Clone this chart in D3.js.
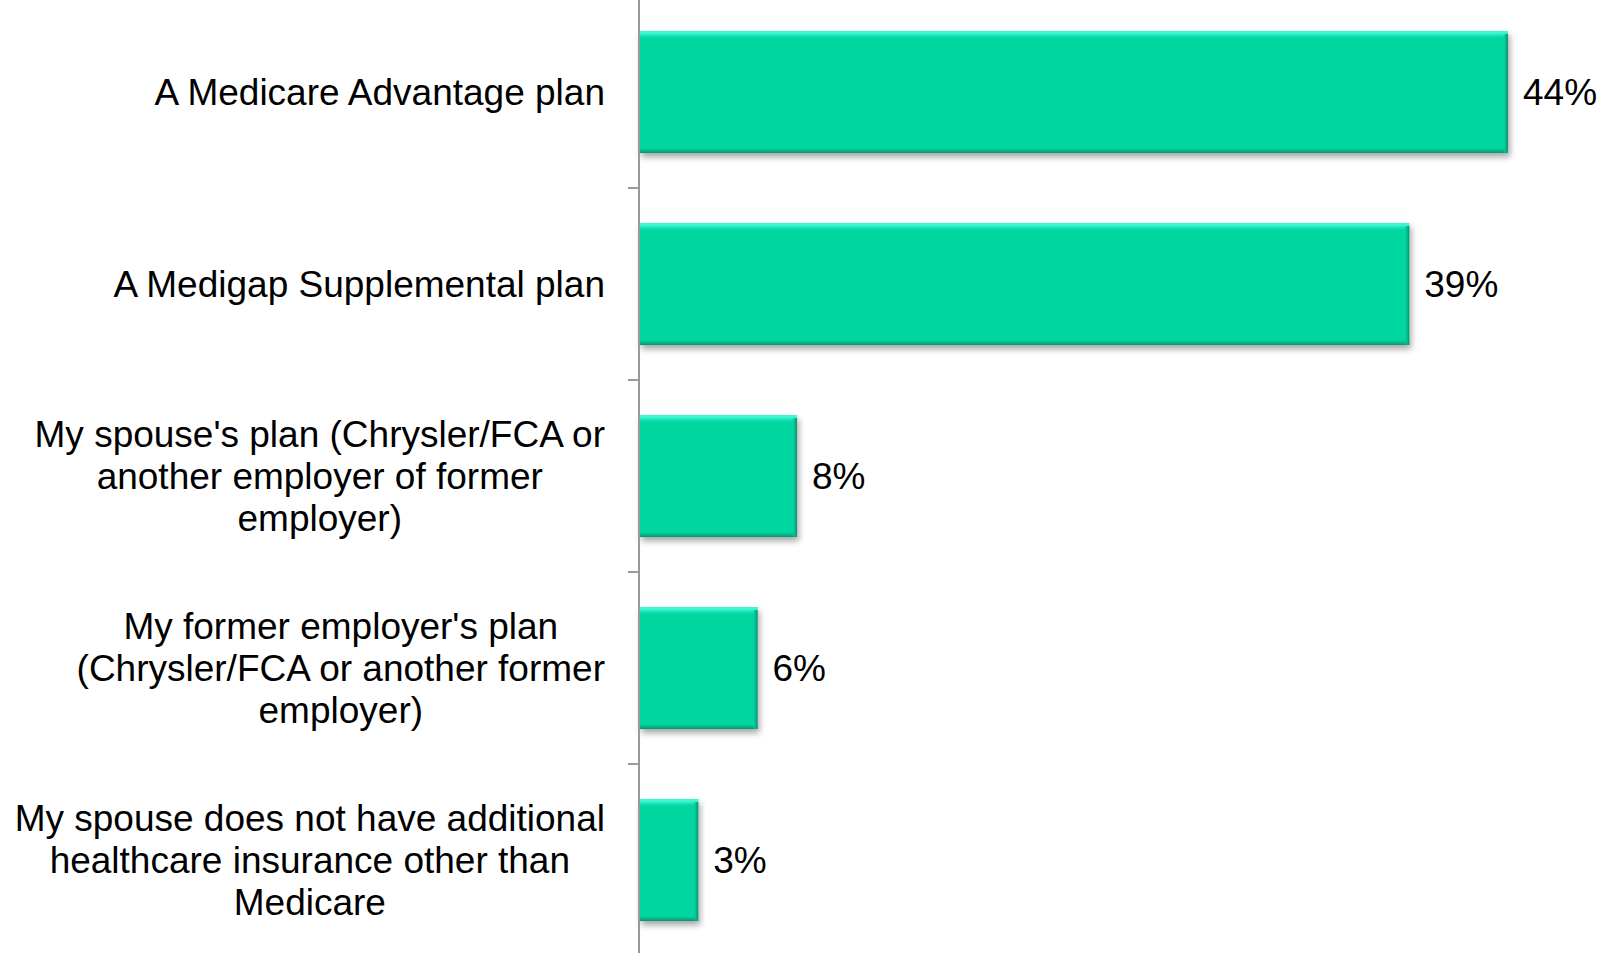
<!DOCTYPE html>
<html>
<head>
<meta charset="utf-8">
<script src="https://cdn.jsdelivr.net/npm/d3@7"></script>
<style>
  html, body { margin: 0; padding: 0; background: #ffffff; }
  svg { display: block; }
  text { font-family: "Liberation Sans", Arial, sans-serif; fill: #000; }
</style>
</head>
<body>
<svg id="chart" width="1602" height="953"></svg>
<script>
// ---- data ----
const categories = [
  "A Medicare Advantage plan",
  "A Medigap Supplemental plan",
  "My spouse's plan (Chrysler/FCA or|another employer of former|employer)",
  "My former employer's plan|(Chrysler/FCA or another former|employer)",
  "My spouse does not have additional|healthcare insurance other than|Medicare"
];
const values = [44, 39, 8, 6, 3];
const valueLabels = ["44%", "39%", "8%", "6%", "3%"];

// ---- layout ----
const W = 1602, H = 953;
const axisX = 639;
const fontSize = 37;
const svg = d3.select("#chart");

const y = d3.scaleBand()
  .domain(categories)
  .range([-4, 956])
  .paddingInner(0.365)
  .paddingOuter(0.1825);

const x = d3.scaleLinear()
  .domain([0, 48])
  .range([axisX, axisX + 48 * 19.75]);

const defs = svg.append("defs");
const sh = defs.append("filter").attr("id", "shadow")
  .attr("x", "-5%").attr("y", "-10%").attr("width", "115%").attr("height", "130%");
sh.append("feDropShadow").attr("dx", 2).attr("dy", 4).attr("stdDeviation", 3)
  .attr("flood-color", "#000").attr("flood-opacity", 0.35);

const gTop = defs.append("linearGradient").attr("id", "topBevel")
  .attr("x1", 0).attr("y1", 0).attr("x2", 0).attr("y2", 1);
gTop.append("stop").attr("offset", "0%").attr("stop-color", "#3ff7d6").attr("stop-opacity", 1);
gTop.append("stop").attr("offset", "35%").attr("stop-color", "#3ff7d6").attr("stop-opacity", 0.9);
gTop.append("stop").attr("offset", "100%").attr("stop-color", "#06d6a0").attr("stop-opacity", 0);

const gBot = defs.append("linearGradient").attr("id", "botBevel")
  .attr("x1", 0).attr("y1", 0).attr("x2", 0).attr("y2", 1);
gBot.append("stop").attr("offset", "0%").attr("stop-color", "#06d6a0").attr("stop-opacity", 0);
gBot.append("stop").attr("offset", "60%").attr("stop-color", "#09b68a").attr("stop-opacity", 1);
gBot.append("stop").attr("offset", "100%").attr("stop-color", "#0a8f70").attr("stop-opacity", 1);

const gRight = defs.append("linearGradient").attr("id", "rightBevel")
  .attr("x1", 0).attr("y1", 0).attr("x2", 1).attr("y2", 0);
gRight.append("stop").attr("offset", "0%").attr("stop-color", "#06d6a0").attr("stop-opacity", 0);
gRight.append("stop").attr("offset", "60%").attr("stop-color", "#09b68a").attr("stop-opacity", 1);
gRight.append("stop").attr("offset", "100%").attr("stop-color", "#0a8f70").attr("stop-opacity", 1);

// ---- bars ----
const bars = svg.append("g").selectAll("g.bar")
  .data(categories.map((c, i) => ({ c, v: values[i], l: valueLabels[i] })))
  .join("g").attr("class", "bar");

bars.append("rect")
  .attr("x", x(0))
  .attr("y", d => y(d.c))
  .attr("width", d => x(d.v) - x(0))
  .attr("height", y.bandwidth())
  .attr("fill", "#06d6a0")
  .attr("filter", "url(#shadow)");

bars.append("rect")
  .attr("x", x(0))
  .attr("y", d => y(d.c))
  .attr("width", d => x(d.v) - x(0))
  .attr("height", 8)
  .attr("fill", "url(#topBevel)");

bars.append("rect")
  .attr("x", x(0))
  .attr("y", d => y(d.c) + y.bandwidth() - 6)
  .attr("width", d => x(d.v) - x(0))
  .attr("height", 6)
  .attr("fill", "url(#botBevel)");

bars.append("rect")
  .attr("x", d => x(d.v) - 5)
  .attr("y", d => y(d.c) + 3)
  .attr("width", 5)
  .attr("height", y.bandwidth() - 3)
  .attr("fill", "url(#rightBevel)");

// value labels
bars.append("text")
  .attr("x", d => x(d.v) + 15)
  .attr("y", d => y(d.c) + y.bandwidth() / 2)
  .attr("dy", "0.35em")
  .attr("font-size", fontSize)
  .text(d => d.l);

// ---- axis ----
const axisG = svg.append("g");
axisG.append("line")
  .attr("x1", axisX).attr("x2", axisX)
  .attr("y1", 0).attr("y2", H)
  .attr("stroke", "#9a9a9a").attr("stroke-width", 2);

const step = y.step();
const boundaries = categories.map(c => y(c) - step * y.paddingInner() / 2)
  .concat([y(categories[categories.length - 1]) + y.bandwidth() + step * y.paddingInner() / 2]);
axisG.selectAll("line.tick").data(boundaries).join("line")
  .attr("class", "tick")
  .attr("x1", axisX - 11).attr("x2", axisX)
  .attr("y1", d => d).attr("y2", d => d)
  .attr("stroke", "#9a9a9a").attr("stroke-width", 2);

// ---- category labels ----
const labelRight = 605;
const lineH = 42.4;
const labels = svg.append("g");
categories.forEach(c => {
  const lines = c.split("|");
  const cy = y(c) + y.bandwidth() / 2;
  const g = labels.append("g");
  const texts = lines.map((ln, i) => g.append("text")
    .attr("y", cy + (i - (lines.length - 1) / 2) * lineH)
    .attr("dy", "0.35em")
    .attr("font-size", fontSize)
    .attr("text-anchor", "middle")
    .text(ln));
  const maxW = d3.max(texts, t => t.node().getComputedTextLength());
  texts.forEach(t => t.attr("x", labelRight - maxW / 2));
});
</script>
</body>
</html>
